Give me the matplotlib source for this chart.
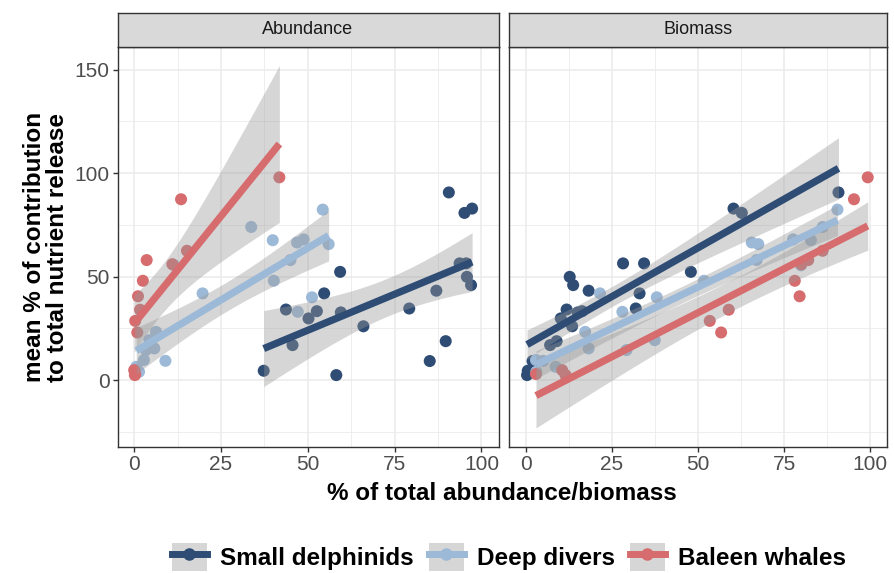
import numpy as np
import matplotlib
matplotlib.use("Agg")
import matplotlib.pyplot as plt
from matplotlib.lines import Line2D
from matplotlib.patches import Patch
from matplotlib.ticker import MultipleLocator

plt.rcParams['font.family'] = ['Liberation Sans', 'DejaVu Sans']

# --- data (y shared between facets, x differs) ---
facets = ["Abundance", "Biomass"]
groups = ["Small delphinids", "Deep divers", "Baleen whales"]
colors = ["#2E4C74", "#9DB9D8", "#D66C6E"]

sd_y = [90.7, 80.8, 82.9, 56.4, 56.4, 49.9, 45.9, 43.2, 34.6, 26.0, 18.8,
        9.2, 52.3, 41.9, 34.1, 29.8, 33.3, 32.7, 16.9, 4.5, 2.4]
sd_abund = [90.6, 95.1, 97.3, 93.7, 95.6, 95.8, 97.0, 87.0, 79.2, 66.0, 89.7,
            85.1, 59.3, 54.7, 43.7, 50.2, 52.6, 59.5, 45.6, 37.3, 58.2]
sd_biom = [90.8, 62.7, 60.3, 28.2, 34.3, 12.7, 13.7, 18.2, 31.9, 13.4, 8.9,
           1.9, 47.9, 33.0, 11.8, 10.1, 16.3, 15.0, 7.0, 0.5, 0.3]

dd_y = [82.4, 74.0, 68.0, 67.6, 66.5, 65.7, 58.0, 55.5, 48.0, 41.9, 40.0,
        33.0, 23.3, 19.3, 15.3, 14.5, 9.7, 9.3, 6.4, 4.0]
dd_abund = [54.3, 33.7, 48.8, 39.9, 46.9, 56.0, 45.0, 11.5, 40.2, 19.7, 51.2,
            47.1, 6.3, 4.4, 5.8, 3.4, 2.8, 9.0, 0.6, 1.4]
dd_biom = [90.5, 86.2, 77.6, 82.8, 65.6, 67.5, 67.0, 79.9, 51.7, 21.5, 38.0,
           28.0, 17.2, 37.4, 18.2, 29.2, 2.9, 5.0, 8.6, 3.0]

bw_y = [98.0, 87.4, 62.5, 58.0, 56.0, 48.0, 40.5, 34.0, 28.6, 23.0, 4.8, 2.9, 2.4]
bw_abund = [41.8, 13.5, 15.2, 3.6, 11.0, 2.5, 1.1, 1.7, 0.3, 0.9, 0.0, 0.3, 0.2]
bw_biom = [99.3, 95.3, 86.2, 82.0, 80.0, 78.1, 79.5, 58.9, 53.4, 56.7, 10.5, 2.9, 11.5]

ys = [sd_y, dd_y, bw_y]
xs = {"Abundance": [sd_abund, dd_abund, bw_abund],
      "Biomass": [sd_biom, dd_biom, bw_biom]}


def t975(df):
    # Cornish-Fisher style expansion of the 97.5% t quantile
    z = 1.959964
    g1 = (z**3 + z) / 4
    g2 = (5*z**5 + 16*z**3 + 3*z) / 96
    g3 = (3*z**7 + 19*z**5 + 17*z**3 - 15*z) / 384
    g4 = (79*z**9 + 776*z**7 + 1482*z**5 - 1920*z**3 - 945*z) / 92160
    return z + g1/df + g2/df**2 + g3/df**3 + g4/df**4


def lm_fit(x, y):
    x = np.asarray(x, float)
    y = np.asarray(y, float)
    n = len(x)
    b, a = np.polyfit(x, y, 1)
    res = y - (a + b*x)
    s = np.sqrt(np.sum(res**2) / (n - 2))
    xm = x.mean()
    sxx = np.sum((x - xm)**2)
    xg = np.linspace(x.min(), x.max(), 80)
    yg = a + b*xg
    se = s * np.sqrt(1.0/n + (xg - xm)**2 / sxx)
    t = t975(n - 2)
    return xg, yg, yg - t*se, yg + t*se


W, H = 894, 573
fig = plt.figure(figsize=(W/100, H/100), dpi=100)

panel_px = [(117.5, 498.5), (509.5, 887.0)]
top_px, bot_px = 47.0, 447.3
strip_top = 13.0

for i, facet in enumerate(facets):
    l, r = panel_px[i]
    ax = fig.add_axes([l/W, (H-bot_px)/H, (r-l)/W, (bot_px-top_px)/H])
    sax = fig.add_axes([l/W, (H-top_px)/H, (r-l)/W, (top_px-strip_top)/H])
    sax.set_facecolor("#D9D9D9")
    sax.set_xticks([])
    sax.set_yticks([])
    for sp in sax.spines.values():
        sp.set_color("#333333")
        sp.set_linewidth(1.0)
    sax.text(0.5, 0.5, facet, ha="center", va="center", fontsize=13,
             color="#1A1A1A", transform=sax.transAxes)

    # points first, ribbons and lines drawn over them
    for g in range(3):
        ax.scatter(xs[facet][g], ys[g], s=75, color=colors[g],
                   edgecolors="none", zorder=2)
    for g in range(3):
        xg, yg, lo, hi = lm_fit(xs[facet][g], ys[g])
        ax.fill_between(xg, lo, hi, color="#999999", alpha=0.4,
                        linewidth=0, zorder=3)
        ax.plot(xg, yg, color=colors[g], lw=5.2, solid_capstyle="butt",
                zorder=4)

    ax.set_xlim(-4.8, 104.9)
    ax.set_ylim(-32.5, 161)
    ax.xaxis.set_major_locator(MultipleLocator(25))
    ax.xaxis.set_minor_locator(MultipleLocator(12.5))
    ax.yaxis.set_major_locator(MultipleLocator(50))
    ax.yaxis.set_minor_locator(MultipleLocator(25))
    ax.grid(which="major", color="#EBEBEB", lw=1.1, zorder=0)
    ax.grid(which="minor", color="#EBEBEB", lw=0.6, zorder=0)
    ax.set_axisbelow(True)
    for sp in ax.spines.values():
        sp.set_color("#333333")
        sp.set_linewidth(1.0)
    ax.tick_params(which="major", length=3.5, width=1.0, color="#333333",
                   labelsize=15, labelcolor="#4D4D4D", pad=2)
    ax.tick_params(which="minor", length=0)
    if i == 1:
        ax.tick_params(axis="y", which="both", left=False, labelleft=False)

fig.text(502/W, (H-493)/H, "% of total abundance/biomass", ha="center",
         va="center", fontsize=17.5, fontweight="bold")
fig.text(46/W, (H-247)/H, "mean % of contribution\nto total nutrient release",
         ha="center", va="center", rotation=90, fontsize=17.5,
         fontweight="bold", linespacing=0.95)

handles = []
for g in range(3):
    bg = Patch(facecolor="#D6D6D6", edgecolor="none")
    ln = Line2D([], [], color=colors[g], lw=5, marker="o", markersize=8)
    handles.append((bg, ln))
fig.legend(handles, groups, loc="center", bbox_to_anchor=(509/W, 16/H),
           ncol=3, frameon=False, prop={"weight": "bold", "size": 17.5},
           handlelength=1.45, handleheight=1.4, handletextpad=0.55,
           columnspacing=0.6, borderpad=0)

fig.savefig("out.png", dpi=100)
